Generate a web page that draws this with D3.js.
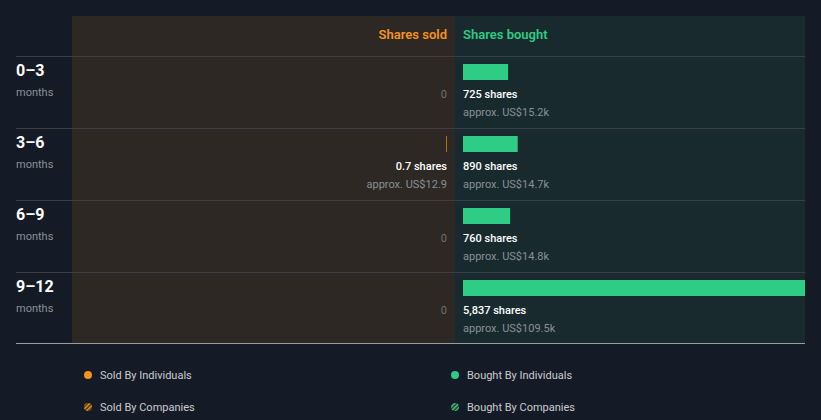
<!DOCTYPE html>
<html><head><meta charset="utf-8">
<script src="https://cdn.jsdelivr.net/npm/d3@7"></script>
<style>
html,body{margin:0;padding:0;background:#151b26;}
svg{display:block;font-family:Roboto,"Open Sans",sans-serif;}
</style></head><body>
<svg id="c" width="821" height="420"></svg>
<script>
const periods = ["0–3", "3–6", "6–9", "9–12"];
const periodUnit = "months";
const soldShares = [0, 0.7, 0, 0];
const soldValue = [null, "US$12.9", null, null];
const boughtShares = [725, 890, 760, 5837];
const boughtValue = ["US$15.2k", "US$14.7k", "US$14.8k", "US$109.5k"];
const legendItems = [
  {label: "Sold By Individuals", color: "#f7931a", hatch: false},
  {label: "Bought By Individuals", color: "#2ecc85", hatch: false},
  {label: "Sold By Companies", color: "#f7931a", hatch: true},
  {label: "Bought By Companies", color: "#2ecc85", hatch: true}
];

const svg = d3.select("#c");
const leftX = 16, panelL = 72, mid = 455, rightX = 805, topY = 16, headerH = 40, rowH = 72;
const bottomY = topY + headerH + rowH * periods.length - 1;

const defs = svg.append("defs");
[["hatchO", "#f7931a"], ["hatchG", "#2ecc85"]].forEach(([id, c]) => {
  const p = defs.append("pattern").attr("id", id).attr("patternUnits", "userSpaceOnUse")
    .attr("width", 3).attr("height", 3).attr("patternTransform", "rotate(45)");
  p.append("rect").attr("width", 3).attr("height", 3).attr("fill", "#3a2e20");
  p.append("rect").attr("width", 1.5).attr("height", 3).attr("fill", c);
});

svg.append("rect").attr("x", panelL).attr("y", topY).attr("width", mid - panelL).attr("height", bottomY - topY).attr("fill", "#2d2823");
svg.append("rect").attr("x", mid).attr("y", topY).attr("width", rightX - mid).attr("height", bottomY - topY).attr("fill", "#182a2e");

const y = d3.scaleBand().domain(periods).range([topY + headerH, topY + headerH + rowH * periods.length]);
const maxV = d3.max(boughtShares.concat(soldShares));
const xb = d3.scaleLinear().domain([0, maxV]).range([3, rightX - 463]);
const xs = d3.scaleLinear().domain([0, maxV]).range([0, 447 - panelL]);

svg.append("text").attr("x", 447).attr("y", topY + 23).attr("text-anchor", "end")
  .attr("fill", "#f7931a").attr("font-size", 13).attr("font-weight", 600).text("Shares sold");
svg.append("text").attr("x", 463).attr("y", topY + 23)
  .attr("fill", "#2ecc85").attr("font-size", 13).attr("font-weight", 600).text("Shares bought");

periods.forEach((p, i) => {
  const y0 = y(p);
  svg.append("line").attr("x1", leftX).attr("x2", rightX).attr("y1", y0 + 0.5).attr("y2", y0 + 0.5)
    .attr("stroke", "#3c3e42").attr("stroke-width", 1);
  svg.append("text").attr("x", leftX).attr("y", y0 + 20).attr("fill", "#ffffff")
    .attr("font-size", 16).attr("font-weight", 700).text(p);
  svg.append("text").attr("x", leftX).attr("y", y0 + 40).attr("fill", "#8b9096")
    .attr("font-size", 11).text(periodUnit);

  const bv = boughtShares[i];
  if (bv > 0) {
    svg.append("rect").attr("x", 463).attr("y", y0 + 8).attr("width", xb(bv)).attr("height", 16).attr("fill", "#2ecc85");
    svg.append("text").attr("x", 463).attr("y", y0 + 42).attr("fill", "#ffffff").attr("font-size", 11).attr("font-weight", 500)
      .text(d3.format(",")(bv) + " shares");
    svg.append("text").attr("x", 463).attr("y", y0 + 60).attr("fill", "#8b9096").attr("font-size", 11)
      .text("approx. " + boughtValue[i]);
  } else {
    svg.append("text").attr("x", 463).attr("y", y0 + 42).attr("fill", "#6e7176").attr("font-size", 11).text("0");
  }
  const sv = soldShares[i];
  if (sv > 0) {
    const w = Math.max(1, xs(sv));
    svg.append("rect").attr("x", 447 - w).attr("y", y0 + 8).attr("width", w).attr("height", 16).attr("fill", "#c46a0e");
    svg.append("text").attr("x", 447).attr("y", y0 + 42).attr("text-anchor", "end").attr("fill", "#ffffff").attr("font-size", 11).attr("font-weight", 500)
      .text(sv + " shares");
    svg.append("text").attr("x", 447).attr("y", y0 + 60).attr("text-anchor", "end").attr("fill", "#8b9096").attr("font-size", 11)
      .text("approx. " + soldValue[i]);
  } else {
    svg.append("text").attr("x", 447).attr("y", y0 + 42).attr("text-anchor", "end").attr("fill", "#6e7176").attr("font-size", 11).text("0");
  }
});

svg.append("line").attr("x1", leftX).attr("x2", rightX).attr("y1", bottomY + 0.5).attr("y2", bottomY + 0.5)
  .attr("stroke", "#9a9da2").attr("stroke-width", 1);

const lx = [88, 455], ly = [375, 407];
legendItems.forEach((d, i) => {
  const cx = lx[i % 2], cy = ly[Math.floor(i / 2)];
  svg.append("circle").attr("cx", cx).attr("cy", cy).attr("r", 4)
    .attr("fill", d.hatch ? (d.color === "#f7931a" ? "url(#hatchO)" : "url(#hatchG)") : d.color);
  svg.append("text").attr("x", cx + 12).attr("y", cy + 4).attr("fill", "#c9ccd1").attr("font-size", 11).text(d.label);
});
</script>
</body></html>
